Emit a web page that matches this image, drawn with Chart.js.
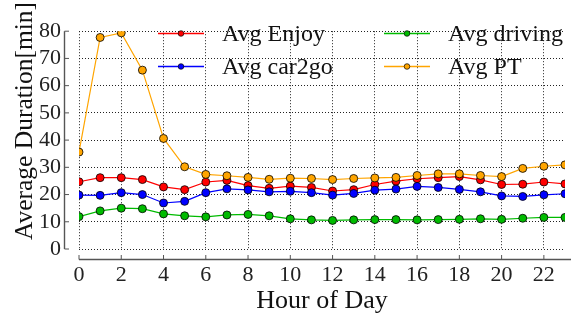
<!DOCTYPE html>
<html>
<head>
<meta charset="utf-8">
<script src="https://cdn.jsdelivr.net/npm/chart.js@4.4.0/dist/chart.umd.min.js"></script>
<style>
html,body{margin:0;padding:0;background:#fff;}
#c{display:block;}
</style>
</head>
<body>
<canvas id="c" width="571" height="315"></canvas>
<script>
const hours = [0,1,2,3,4,5,6,7,8,9,10,11,12,13,14,15,16,17,18,19,20,21,22,23];
const avgEnjoy  = [24.7,26.2,26.2,25.5,22.8,21.8,24.6,25.2,23.3,22.3,23.1,22.6,21.3,21.8,23.7,24.9,25.8,26.2,26.6,25.4,23.7,23.8,24.6,23.9];
const avgCar2go = [19.8,19.7,20.7,20.0,16.9,17.5,20.7,22.1,21.7,21.0,21.2,20.7,19.8,20.4,21.6,22.0,23.0,22.6,21.9,21.0,19.5,19.3,19.9,20.3];
const avgDriving= [11.9,14.0,15.0,14.8,12.9,12.2,11.8,12.5,12.7,12.2,11.1,10.7,10.5,10.7,10.8,10.8,10.7,10.8,10.9,11.1,10.9,11.3,11.6,11.6];
const avgPT     = [35.6,77.7,79.4,65.7,40.6,30.2,27.4,26.9,26.3,25.6,26.0,25.9,25.5,25.9,26.1,26.3,27.0,27.6,27.6,27.0,26.6,29.6,30.4,30.9];
const seriesNames = ['Avg Enjoy','Avg car2go','Avg driving','Avg PT'];
const yTicks = {min:0, max:80, step:10};
const xTicks = {min:0, max:23, step:2};

const colors = ['#ff0000','#0000ff','#00bb00','#ffa500'];
const SERIF = '"Liberation Serif", "DejaVu Serif", serif';

function mk(name, data, color, order){
  return {
    label: name,
    data: hours.map((h,i)=>({x:h, y:data[i]})),
    borderColor: color,
    backgroundColor: color,
    pointBackgroundColor: color,
    pointBorderColor: '#000',
    pointBorderWidth: 0.8,
    pointRadius: 4,
    borderWidth: 1.2,
    tension: 0,
    order: order
  };
}

const spinesPlugin = {
  id: 'spines',
  afterDraw(chart){
    const ctx = chart.ctx;
    const xs = chart.scales.x, ys = chart.scales.y;
    const ca = chart.chartArea;
    ctx.save();
    ctx.strokeStyle = '#555';
    ctx.lineWidth = 1.4;
    const sx = ca.left - 14.5;
    ctx.beginPath();
    ctx.moveTo(sx, ys.getPixelForValue(yTicks.max));
    ctx.lineTo(sx, ys.getPixelForValue(yTicks.min));
    ctx.stroke();
    ctx.lineWidth = 1;
    ys.ticks.forEach(t=>{
      const p = ys.getPixelForValue(t.value);
      ctx.beginPath(); ctx.moveTo(sx, p); ctx.lineTo(sx+4.5, p); ctx.stroke();
    });
    const sy = ca.bottom + 10.5;
    ctx.lineWidth = 1.4;
    ctx.beginPath();
    ctx.moveTo(xs.getPixelForValue(xTicks.min), sy);
    ctx.lineTo(chart.width, sy);
    ctx.stroke();
    ctx.lineWidth = 1;
    xs.ticks.forEach(t=>{
      const p = xs.getPixelForValue(t.value);
      ctx.beginPath(); ctx.moveTo(p, sy); ctx.lineTo(p, sy-4.5); ctx.stroke();
    });
    ctx.fillStyle = '#111';
    ctx.font = '26px ' + SERIF;
    ctx.textAlign = 'center';
    ctx.textBaseline = 'alphabetic';
    ctx.fillText('Hour of Day', (ca.left+ca.right)/2, 308);
    ctx.save();
    ctx.translate(32, 121);
    ctx.rotate(-Math.PI/2);
    ctx.font = '25.5px ' + SERIF;
    ctx.fillText('Average Duration[min]', 0, 0);
    ctx.restore();
    const cols = [{x0:158, x1:204, tx:222},{x0:384, x1:430, tx:448}];
    const rows = [33, 66];
    const slots = [[0,0],[0,1],[1,0],[1,1]];
    ctx.font = '24px ' + SERIF;
    ctx.textAlign = 'left';
    chart.data.datasets.forEach((ds,i)=>{
      const c = cols[slots[i][0]], y = rows[slots[i][1]];
      ctx.strokeStyle = ds.borderColor;
      ctx.lineWidth = 1.4;
      ctx.beginPath(); ctx.moveTo(c.x0, y+0.5); ctx.lineTo(c.x1, y+0.5); ctx.stroke();
      ctx.beginPath(); ctx.arc((c.x0+c.x1)/2, y+0.5, 2.8, 0, Math.PI*2);
      ctx.fillStyle = ds.pointBackgroundColor; ctx.fill();
      ctx.strokeStyle = '#000'; ctx.lineWidth = 0.7; ctx.stroke();
      ctx.fillStyle = '#111';
      ctx.fillText(ds.label, c.tx, y + 8.3);
    });
    ctx.restore();
  }
};

new Chart(document.getElementById('c'), {
  type: 'line',
  data: {
    datasets: [
      mk(seriesNames[0], avgEnjoy, colors[0], 4),
      mk(seriesNames[1], avgCar2go, colors[1], 3),
      mk(seriesNames[2], avgDriving, colors[2], 2),
      mk(seriesNames[3], avgPT, colors[3], 1)
    ]
  },
  options: {
    responsive: false,
    animation: false,
    devicePixelRatio: 1,
    layout: {padding: {left:0, right:6, top:19, bottom:0}},
    plugins: {legend:{display:false}, tooltip:{enabled:false}},
    scales: {
      x: {
        type: 'linear',
        min: xTicks.min, max: xTicks.max,
        ticks: {stepSize: xTicks.step, includeBounds: false, padding: 13, color:'#222',
                autoSkip: false, font: {family: SERIF, size: 22}, maxRotation: 0},
        grid: {color:'#222', lineWidth:1, drawTicks:false},
        border: {display:false, dash:[1,2]},
        afterFit(s){ s.height = 66; }
      },
      y: {
        min: yTicks.min, max: yTicks.max,
        ticks: {stepSize: yTicks.step, padding: 18, color:'#222', autoSkip: false,
                font: {family: SERIF, size: 22}},
        grid: {color:'#222', lineWidth:1, drawTicks:false},
        border: {display:false, dash:[1,2]},
        afterFit(s){ s.width = 79; }
      }
    }
  },
  plugins: [spinesPlugin]
});
</script>
</body>
</html>
